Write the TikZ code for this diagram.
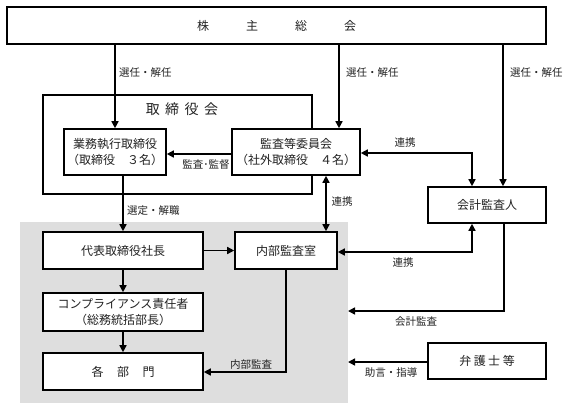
\documentclass[tikz,border=0pt]{standalone}
\usepackage{fontspec}
\setmainfont{Noto Sans CJK JP}
\usetikzlibrary{arrows.meta}
\definecolor{grayzone}{HTML}{DEDEDE}
\definecolor{ink}{HTML}{222222}
\begin{document}
\begin{tikzpicture}[x=1pt,y=-1pt,
  box/.style={draw=black, line width=1.6pt, fill=white, inner sep=0pt, align=center,
    font=\fontsize{12}{16}\selectfont, text=ink},
  lbl/.style={font=\fontsize{10.5}{12}\selectfont, inner sep=0pt, text=ink},
  conn/.style={line width=1.5pt, -{Triangle[length=7pt,width=7pt]}},
  biconn/.style={line width=1.5pt, {Triangle[length=7pt,width=7pt]}-{Triangle[length=7pt,width=7pt]}}]
\useasboundingbox (0,0) rectangle (567,410);
\node[fill=grayzone, minimum width=328pt, minimum height=181pt, inner sep=0pt] (zone) at (184,312.5) {};
% boxes
\node[box, minimum width=539pt, minimum height=37pt] (gm) at (276.5,25.5) {株\hspace{37pt}主\hspace{37pt}総\hspace{37pt}会};
\node[draw=black, line width=1.6pt, minimum width=269pt, minimum height=99pt, inner sep=0pt] (board) at (177.5,144.5) {};
\node[font=\fontsize{14}{16}\selectfont, inner sep=0pt, text=ink] (boardtitle) at (182,109) {取\hspace{5.5pt}締\hspace{5.5pt}役\hspace{5.5pt}会};
\node[box, minimum width=102pt, minimum height=46pt] (exec) at (115,152) {業務執行取締役\\（取締役　３名）};
\node[box, minimum width=128pt, minimum height=46pt] (audit) at (296,152) {監査等委員会\\（社外取締役　４名）};
\node[box, minimum width=118pt, minimum height=36pt] (acct) at (487,205) {会計監査人};
\node[box, minimum width=160pt, minimum height=37pt] (pres) at (123,250.5) {代表取締役社長};
\node[box, minimum width=102pt, minimum height=37pt] (intaudit) at (286,250.5) {内部監査室};
\node[box, minimum width=160pt, minimum height=38pt] (comp) at (123,312) {コンプライアンス責任者\\（総務統括部長）};
\node[box, minimum width=160pt, minimum height=37pt] (dept) at (123,371.5) {各\hspace{13.5pt}部\hspace{13.5pt}門};
\node[box, minimum width=118pt, minimum height=36pt] (lawyer) at (487,361) {弁\hspace{2.5pt}護\hspace{2.5pt}士\hspace{2.5pt}等};
% helper coordinates
\coordinate (x2) at (339,0);
\coordinate (x3) at (503,0);
\coordinate (x4) at (472,0);
\coordinate (x5) at (326,0);
\coordinate (x7) at (504,0);
\coordinate (y1) at (0,154);
\coordinate (y2) at (0,153);
\coordinate (y3) at (0,252);
\coordinate (y4) at (0,372);
\coordinate (acctend) at (348,311);
\coordinate (lawend) at (348,362);
% connectors
\draw[conn] (gm.south -| exec.north) -- (exec.north);
\draw[conn] (gm.south -| x2) -- (audit.north -| x2);
\draw[conn] (gm.south -| x3) -- (acct.north -| x3);
\draw[conn] (audit.west |- y1) -- (exec.east |- y1);
\draw[biconn] (audit.east |- y2) -| (acct.north -| x4);
\draw[biconn] (audit.south -| x5) -- (intaudit.north -| x5);
\draw[conn] (exec.south -| pres.north) -- (pres.north);
\draw[conn] (pres.east) -- (intaudit.west);
\draw[biconn] (intaudit.east |- y3) -| (acct.south -| x4);
\draw[conn] (pres.south) -- (comp.north);
\draw[conn] (comp.south) -- (dept.north);
\draw[conn] (intaudit.south) |- (dept.east |- y4);
\draw[conn] (acct.south -| x7) |- (acctend);
\draw[conn] (lawyer.west |- lawend) -- (lawend);
% labels
\node[lbl, anchor=west] (l1) at (119,73) {選任・解任};
\node[lbl, anchor=west] (l2) at (346,73) {選任・解任};
\node[lbl, anchor=west] (l3) at (510,73) {選任・解任};
\node[lbl] (l4) at (206,165) {監査･監督};
\node[lbl] (l5) at (405,143) {連携};
\node[lbl] (l6) at (342,202) {連携};
\node[lbl] (l7) at (403,263) {連携};
\node[lbl, anchor=west] (l8) at (127,211) {選定・解職};
\node[lbl] (l9) at (251,365) {内部監査};
\node[lbl] (l10) at (416,322) {会計監査};
\node[lbl] (l11) at (391,373) {助言・指導};
\end{tikzpicture}
\end{document}
